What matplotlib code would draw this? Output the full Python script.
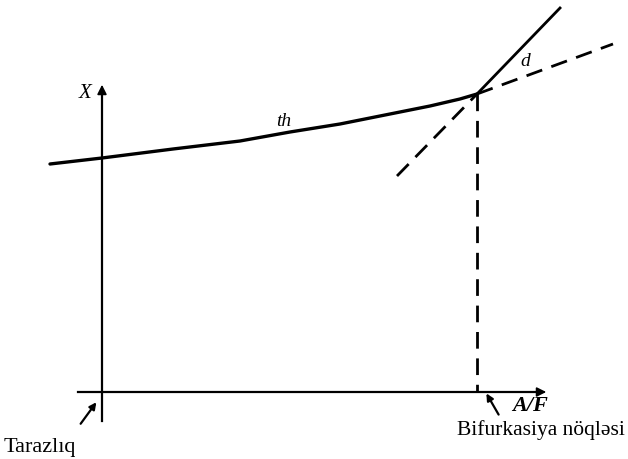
import numpy as np
import matplotlib.pyplot as plt

plt.rcParams['font.family'] = ['Liberation Serif', 'DejaVu Serif']

# th branch (thermodynamic branch), pixel-like diagram coordinates
th_x = [50, 102, 173, 240, 290, 340, 400, 430, 460, 477]
th_y = [165, 159, 150, 142, 133, 125, 113, 107, 100, 95]
# continuation of th past the bifurcation (unstable, dashed)
th_ext_x = [477, 613]
th_ext_y = [95, 45]
# d branch (dissipative branch) and its dashed extension
d_x = [477, 560]
d_y = [95, 9]
d_ext_x = [397, 477]
d_ext_y = [177, 95]
# bifurcation point and axes
bif_x = 477
origin = (102, 393)

fig = plt.figure(figsize=(6.28, 4.60), dpi=100)
ax = fig.add_axes([0, 0, 1, 1])
ax.set_xlim(0, 628)
ax.set_ylim(460, 0)
ax.axis('off')

# axes of the diagram
ax.plot([78, 540], [origin[1], origin[1]], color='black', lw=1.6)
ax.annotate('', xy=(549, origin[1]), xytext=(530, origin[1]),
            arrowprops=dict(arrowstyle='-|>', color='black', lw=1.2, mutation_scale=14))
ax.plot([origin[0], origin[0]], [422, 95], color='black', lw=1.6)
ax.annotate('', xy=(origin[0], 83), xytext=(origin[0], 105),
            arrowprops=dict(arrowstyle='-|>', color='black', lw=1.2, mutation_scale=14))

# branches
ax.plot(th_x, th_y, color='black', lw=2.4, solid_capstyle='round', solid_joinstyle='round')
ax.plot(d_x, d_y, color='black', lw=2.0)
dash = (6, 3.5)
ax.plot(th_ext_x, th_ext_y, color='black', lw=2.0, dashes=dash)
ax.plot(d_ext_x, d_ext_y, color='black', lw=2.0, dashes=dash)
ax.plot([bif_x, bif_x], [95, origin[1]], color='black', lw=2.0, dashes=dash)

# labels
ax.text(85, 93, 'X', fontsize=15, style='italic', ha='center', va='center')
ax.text(284, 121, 'th', fontsize=14, style='italic', ha='center', va='center')
ax.text(525, 62, 'd', fontsize=14, style='italic', ha='center', va='center')
ax.text(530, 406, 'A/F', fontsize=16, style='italic', weight='bold', ha='center', va='center')

# pointer arrows
ax.annotate('', xy=(98, 401), xytext=(79, 427),
            arrowprops=dict(arrowstyle='-|>', color='black', lw=1.6, mutation_scale=10))
ax.annotate('', xy=(485, 392), xytext=(500, 418),
            arrowprops=dict(arrowstyle='-|>', color='black', lw=1.6, mutation_scale=10))
ax.text(4, 448, 'Tarazlıq', fontsize=16, ha='left', va='center')
ax.text(457, 430, 'Bifurkasiya nöqləsi', fontsize=15.5, ha='left', va='center')

fig.savefig('out.png', dpi=100)
